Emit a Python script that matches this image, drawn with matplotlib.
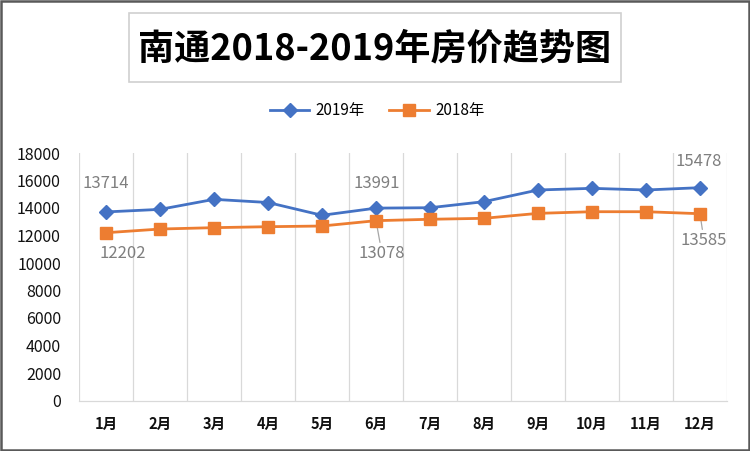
import matplotlib
matplotlib.use("Agg")
import matplotlib.pyplot as plt
from matplotlib.patches import Rectangle

plt.rcParams['font.family'] = ['Noto Sans CJK SC', 'DejaVu Sans']

months = ["1月", "2月", "3月", "4月", "5月", "6月", "7月", "8月", "9月", "10月", "11月", "12月"]
series_names = ["2019年", "2018年"]
prices_2019 = [13714, 13900, 14630, 14400, 13470, 13991, 14020, 14460, 15310, 15430, 15310, 15478]
prices_2018 = [12202, 12470, 12570, 12640, 12690, 13078, 13180, 13250, 13610, 13730, 13730, 13585]
y_ticks = [0, 2000, 4000, 6000, 8000, 10000, 12000, 14000, 16000, 18000]
title = "南通2018-2019年房价趋势图"

blue = "#4472C4"
orange = "#ED7D31"
grid_c = "#d9d9d9"
label_c = "#7f7f7f"

fig = plt.figure(figsize=(7.5, 4.51), dpi=100)
ax = fig.add_axes([79/750, 1-400.5/451, (727-79)/750, (400.5-153)/451])

x = list(range(len(months)))

ax.plot(x, prices_2019, color=blue, lw=2.0, marker="D", markersize=7.5,
        label=series_names[0], zorder=3)
ax.plot(x, prices_2018, color=orange, lw=2.0, marker="s", markersize=8.5,
        label=series_names[1], zorder=3)

ax.set_xlim(-0.5, len(months) - 0.5)
ax.set_ylim(0, 18000)
ax.set_yticks(y_ticks)
ax.set_yticklabels([str(v) for v in y_ticks], fontsize=11.5, color="#111111")
ax.set_xticks(x)
ax.set_xticklabels(months, fontsize=10.5, fontweight="bold", color="#111111")
ax.tick_params(axis="y", length=0, pad=13)
ax.tick_params(axis="x", length=0, pad=11)

for b in [i - 0.5 for i in range(len(months) + 1)]:
    ax.axvline(b, color=grid_c, lw=0.9, zorder=1)
for s in ["top", "right", "left"]:
    ax.spines[s].set_visible(False)
ax.spines["bottom"].set_color(grid_c)
ax.spines["bottom"].set_linewidth(0.9)

def lab(i, vals, dx, dy, leader=False):
    kw = dict(textcoords="offset pixels", ha="center", va="center",
              fontsize=12, color=label_c, zorder=2)
    if leader:
        kw["arrowprops"] = dict(arrowstyle="-", color="#a6a6a6", lw=0.9,
                                shrinkA=0, shrinkB=2)
    ax.annotate(str(vals[i]), (x[i], vals[i]), xytext=(dx, dy), **kw)

lab(0, prices_2019, 0, 28)
lab(0, prices_2018, 17, -21)
lab(5, prices_2019, 1, 25)
lab(5, prices_2018, 6, -33, leader=True)
lab(11, prices_2019, -1, 26)
lab(11, prices_2018, 4, -27, leader=True)

leg = fig.legend(loc="center", bbox_to_anchor=(377/750, 1-111/451), ncol=2,
                 frameon=False, fontsize=11, handlelength=2.6, columnspacing=1.6,
                 handletextpad=0.4)

# title box
fig.patches.append(Rectangle((129/750, 1-82/451), (621-129)/750, (82-13)/451,
                             transform=fig.transFigure, fill=False,
                             edgecolor="#d0d0d0", lw=1.2))
fig.text(375/750, 1-49/451, title, fontsize=26, fontweight="bold",
         ha="center", va="center", color="#000000")

# outer border
fig.patches.append(Rectangle((0.001, 0.002), 0.997, 0.996, transform=fig.transFigure,
                             fill=False, edgecolor="#595959", lw=1.8))

fig.savefig("out.png", dpi=100)
